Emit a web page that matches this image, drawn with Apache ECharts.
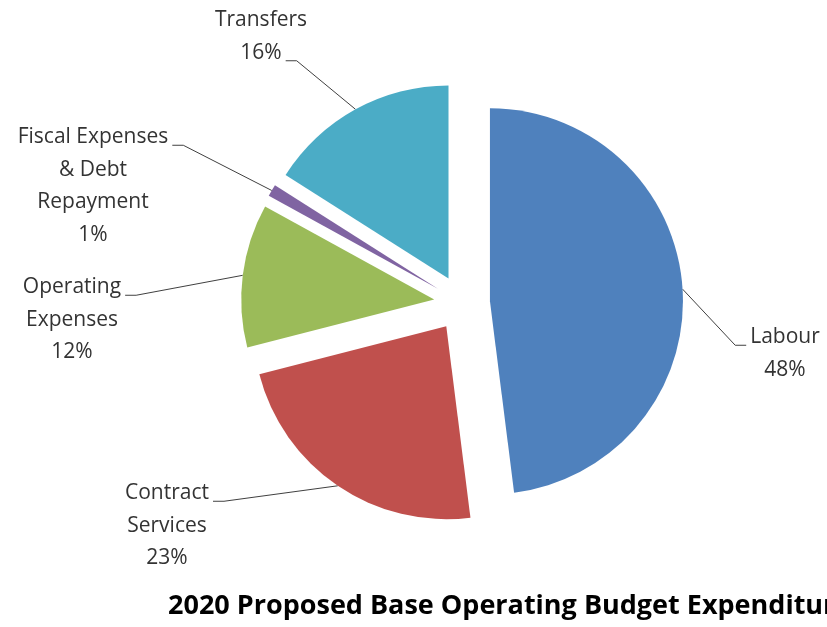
<!DOCTYPE html>
<html>
<head>
<meta charset="utf-8">
<script src="https://cdn.jsdelivr.net/npm/echarts@6/dist/echarts.min.js"></script>
<style>
  html, body { margin: 0; padding: 0; background: #fff; }
  #chart { width: 827px; height: 627px; }
</style>
</head>
<body>
<div id="chart"></div>
<script>
// Budget categories, their shares (%) and slice colours
const categories = ['Labour', 'Contract Services', 'Operating Expenses', 'Fiscal Expenses & Debt Repayment', 'Transfers'];
const shares = [48, 23, 12, 1, 16];
const colors = ['#4F81BD', '#C0504D', '#9BBB59', '#8064A2', '#4BACC6'];
// How each category name wraps in its label
const labelLines = [['Labour'], ['Contract', 'Services'], ['Operating', 'Expenses'], ['Fiscal Expenses', '& Debt', 'Repayment'], ['Transfers']];

const FONT = '"Open Sans", "Noto Sans", sans-serif';
const FONT_SIZE = 21;
const LINE_H = 32.5;
const PIE_CENTER = [462, 303];
const PIE_RADIUS = 193;
const EXPLODE = 28;   // distance each slice is pulled out from the centre

// Label placement: centre x, top y, which text line the leader attaches to, and side
const labelPlacement = [
  { x: 785, y: 321, line: 0, side: 'left' },
  { x: 167, y: 477, line: 0, side: 'right' },
  { x: 72,  y: 271, line: 0, side: 'right' },
  { x: 93,  y: 121, line: 0, side: 'right' },
  { x: 261, y: 4,   line: 1, side: 'right' }
];

const measureCtx = document.createElement('canvas').getContext('2d');
measureCtx.font = FONT_SIZE + 'px ' + FONT;
function textWidth(s) { return measureCtx.measureText(s).width; }

const total = shares.reduce((a, b) => a + b, 0);

// Each slice gets its own pie series whose centre is shifted outwards along
// the slice's bisector, giving the exploded look; the other slices of that
// series are left invisible.
function explodedSeries(k) {
  let before = 0;
  for (let i = 0; i < k; i++) before += shares[i];
  const mid = (before + shares[k] / 2) / total * Math.PI * 2; // clockwise from 12 o'clock
  const center = [PIE_CENTER[0] + EXPLODE * Math.sin(mid), PIE_CENTER[1] - EXPLODE * Math.cos(mid)];
  return {
    type: 'pie',
    center: center,
    radius: [0, PIE_RADIUS],
    startAngle: 90,
    clockwise: true,
    avoidLabelOverlap: false,
    silent: true,
    emphasis: { disabled: true },
    data: categories.map((name, i) => ({
      name: name,
      value: shares[i],
      itemStyle: { color: i === k ? colors[i] : 'rgba(0,0,0,0)' },
      label: { show: i === k },
      labelLine: { show: i === k }
    })),
    label: {
      position: 'outside',
      fontFamily: FONT,
      fontSize: FONT_SIZE,
      lineHeight: LINE_H,
      color: '#333333',
      formatter: p => labelLines[p.dataIndex].join('\n') + '\n' + p.value + '%'
    },
    labelLine: {
      length: 10,
      length2: 10,
      lineStyle: { color: '#404040', width: 1 }
    },
    labelLayout: function (params) {
      const i = params.dataIndex;
      const pl = labelPlacement[i];
      const lines = labelLines[i].concat([shares[i] + '%']);
      const w = textWidth(lines[pl.line]);
      const yLine = pl.y + LINE_H * pl.line + LINE_H / 2 + 8;
      const endX = pl.side === 'right' ? pl.x + w / 2 + 4 : pl.x - w / 2 - 4;
      const elbowX = pl.side === 'right' ? endX + 11 : endX - 11;
      const anchor = params.labelLinePoints ? params.labelLinePoints[0] : [0, 0];
      return {
        x: pl.x,
        y: pl.y,
        align: 'center',
        verticalAlign: 'top',
        labelLinePoints: [anchor, [elbowX, yLine], [endX, yLine]]
      };
    }
  };
}

const chart = echarts.init(document.getElementById('chart'), null, { renderer: 'canvas' });

chart.setOption({
  animation: false,
  backgroundColor: '#ffffff',
  title: {
    text: '2020 Proposed Base Operating Budget Expenditure',
    left: 163,
    top: 588,
    textStyle: { fontFamily: FONT, fontSize: 27, fontWeight: 'bold', color: '#000000' }
  },
  series: categories.map((_, k) => explodedSeries(k))
});
</script>
</body>
</html>
